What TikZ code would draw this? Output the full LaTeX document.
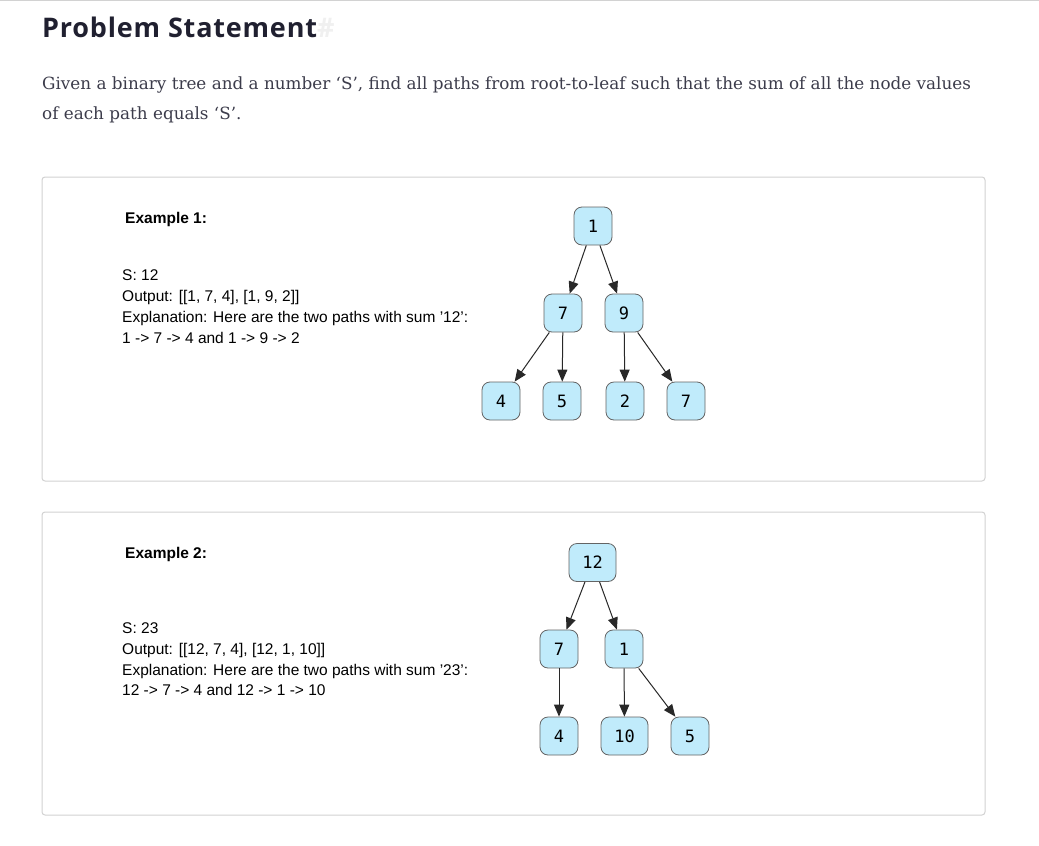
\documentclass[tikz,border=0pt]{standalone}
\usepackage{fontspec}
\setmainfont{Liberation Sans}
\newfontfamily\titlefont[LetterSpace=3]{Open Sans}
\newfontfamily\parafont{DejaVu Serif}
\newfontfamily\nodefont{DejaVu Sans Mono}
\usetikzlibrary{arrows.meta}
\definecolor{titlecol}{RGB}{32,32,48}
\definecolor{paracol}{RGB}{60,60,75}
\definecolor{nodefill}{RGB}{192,235,251}
\definecolor{nodeline}{RGB}{100,100,100}
\definecolor{boxline}{RGB}{210,210,210}
\definecolor{edgecol}{RGB}{40,40,40}
\tikzset{
  treenode/.style={draw=nodeline, fill=nodefill, rounded corners=8pt, line width=0.8pt,
    minimum width=38pt, minimum height=38pt, inner sep=0pt, font=\nodefont\fontsize{17}{17}\selectfont},
  widenode/.style={treenode, minimum width=47pt},
  edge/.style={draw=edgecol, line width=1pt, -{Triangle[length=12pt,width=10pt]}},
  exbox/.style={draw=boxline, line width=1pt, rounded corners=3pt},
  extext/.style={anchor=base west, inner sep=0pt, font=\fontsize{15.5}{15.5}\selectfont},
  exhead/.style={extext, font=\fontsize{15.5}{15.5}\selectfont\bfseries},
}
\begin{document}
\begin{tikzpicture}[x=1pt,y=-1pt]
\useasboundingbox (0,0) rectangle (1039,846);
\fill[white] (0,0) rectangle (1039,846);
\draw[boxline, line width=1pt] (0,0.5) -- (1039,0.5);
% title
\node[anchor=base west, inner sep=0pt, text=titlecol, font=\titlefont\fontsize{27}{27}\selectfont\bfseries] (title) at (42,37) {Problem Statement\textcolor{black!6}{\#}};
% paragraph
\node[anchor=base west, inner sep=0pt, text=paracol, font=\parafont\fontsize{16.8}{16.8}\selectfont] (p1) at (42,89) {Given a binary tree and a number ‘S’, find all paths from root-to-leaf such that the sum of all the node values};
\node[anchor=base west, inner sep=0pt, text=paracol, font=\parafont\fontsize{16.8}{16.8}\selectfont] (p2) at (42,119) {of each path equals ‘S’.};
% boxes
\draw[exbox] (42,177) rectangle (985,481);
\draw[exbox] (42,512) rectangle (985,815);
% example 1 text
\node[exhead] (e1h) at (125,223) {Example 1:};
\node[extext] (e1a) at (122,280) {S: 12};
\node[extext] (e1b) at (122,301) {Output: [[1, 7, 4], [1, 9, 2]]};
\node[extext] (e1c) at (122,322) {Explanation: Here are the two paths with sum '12':};
\node[extext] (e1d) at (122,343) {1 -> 7 -> 4 and 1 -> 9 -> 2};
% example 1 tree
\node[treenode] (a1) at (593,226) {1};
\node[treenode] (a7) at (563,313) {7};
\node[treenode] (a9) at (624,313) {9};
\node[treenode] (a4) at (501,401) {4};
\node[treenode] (a5) at (562,401) {5};
\node[treenode] (a2) at (625,401) {2};
\node[treenode] (a7b) at (686,401) {7};
\draw[edge] (a1) -- (a7);
\draw[edge] (a1) -- (a9);
\draw[edge] (a7) -- (a4);
\draw[edge] (a7) -- (a5);
\draw[edge] (a9) -- (a2);
\draw[edge] (a9) -- (a7b);
% example 2 text
\node[exhead] (e2h) at (125,558) {Example 2:};
\node[extext] (e2a) at (122,633) {S: 23};
\node[extext] (e2b) at (122,654) {Output: [[12, 7, 4], [12, 1, 10]]};
\node[extext] (e2c) at (122,675) {Explanation: Here are the two paths with sum '23':};
\node[extext] (e2d) at (122,695) {12 -> 7 -> 4 and 12 -> 1 -> 10};
% example 2 tree
\node[widenode] (b12) at (592.5,562.5) {12};
\node[treenode] (b7) at (559,649) {7};
\node[treenode] (b1) at (624,649) {1};
\node[treenode] (b4) at (559,736) {4};
\node[widenode] (b10) at (624.5,736) {10};
\node[treenode] (b5) at (690,736) {5};
\draw[edge] (b12) -- (b7);
\draw[edge] (b12) -- (b1);
\draw[edge] (b7) -- (b4);
\draw[edge] (b1) -- (b10);
\draw[edge] (b1) -- (b5);
\end{tikzpicture}
\end{document}
